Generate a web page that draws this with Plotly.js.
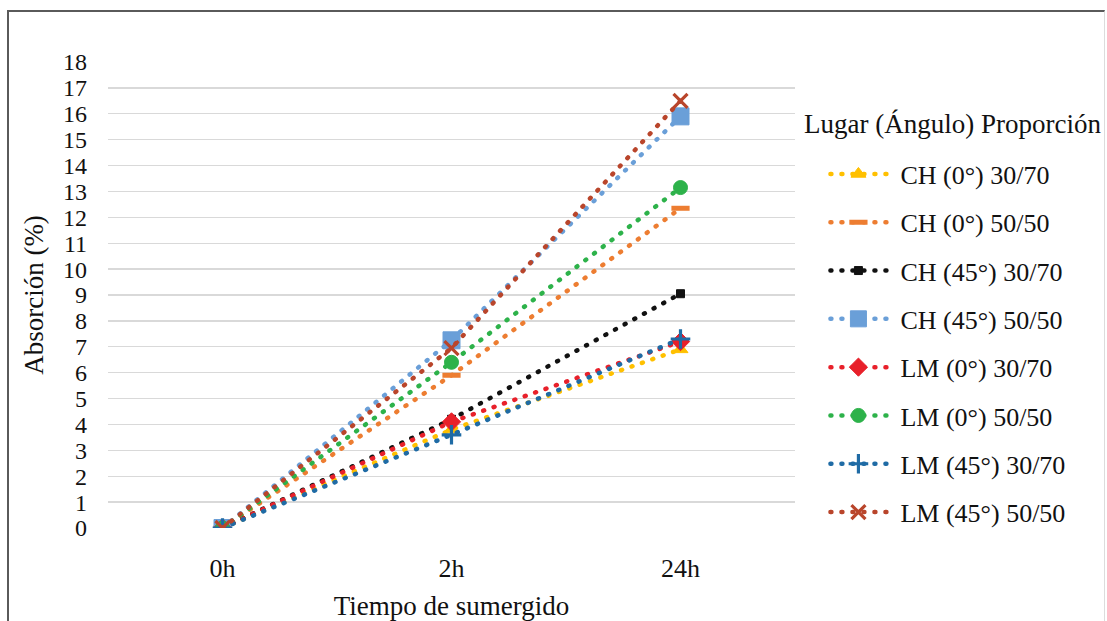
<!DOCTYPE html>
<html>
<head>
<meta charset="utf-8">
<script src="https://cdn.plot.ly/plotly-3.0.1.min.js"></script>
<style>
  html, body { margin: 0; padding: 0; background: #ffffff; }
  #wrap { position: relative; width: 1107px; height: 621px; overflow: hidden; }
  #frame {
    position: absolute; left: 7px; top: 10px; width: 1095px; height: 640px;
    border-top: 2px solid #5a5a5a; border-left: 2px solid #5a5a5a; border-right: 1px solid #dcdcdc;
    pointer-events: none; z-index: 2;
  }
  #chart { position: absolute; left: 0; top: 0; width: 1107px; height: 621px; }
</style>
</head>
<body>
<div id="wrap">
  <div id="chart"></div>
  <div id="frame"></div>
</div>
<script>
// Immersion time categories
const tiempos = ['0h', '2h', '24h'];

// Absorption (%) for each site / angle / proportion
const ch0_3070  = [0, 3.8, 6.9];
const ch0_5050  = [0, 5.9, 12.35];
const ch45_3070 = [0, 4.2, 9.05];
const ch45_5050 = [0, 7.25, 15.9];
const lm0_3070  = [0, 4.1, 7.2];
const lm0_5050  = [0, 6.4, 13.15];
const lm45_3070 = [0, 3.6, 7.3];
const lm45_5050 = [0, 6.95, 16.5];

const nombres = [
  'CH (0°) 30/70', 'CH (0°) 50/50', 'CH (45°) 30/70', 'CH (45°) 50/50',
  'LM (0°) 30/70', 'LM (0°) 50/50', 'LM (45°) 30/70', 'LM (45°) 50/50'
];
const tituloLeyenda = 'Lugar (Ángulo) Proporción';
const series = [ch0_3070, ch0_5050, ch45_3070, ch45_5050, lm0_3070, lm0_5050, lm45_3070, lm45_5050];

const colores = ['#FFC000', '#ED7D31', '#111111', '#6A9FD8', '#E8202A', '#2DB24A', '#1F6BA5', '#B9452B'];
const simbolos = ['triangle-up', 'line-ew', 'square', 'square', 'diamond', 'circle', 'cross-thin', 'x-thin'];
const tamanos = [13, 13, 8, 17, 14, 14, 14, 14];

const traces = series.map((vals, i) => {
  const open = (simbolos[i] === 'line-ew' || simbolos[i] === 'cross-thin' || simbolos[i] === 'x-thin');
  return {
    type: 'scatter',
    mode: 'lines+markers',
    name: nombres[i],
    legendgroup: 'g' + i,
    x: tiempos,
    y: vals,
    line: { color: colores[i], width: 4.5, dash: '1px,10px' },
    marker: {
      symbol: simbolos[i],
      size: tamanos[i],
      color: colores[i],
      line: { color: colores[i], width: simbolos[i] === 'line-ew' ? 5 : (open ? 3.2 : 1) }
    }
  };
});

const familia = 'Liberation Serif';
const f = (s) => ({ family: familia, size: s, color: '#111111' });

const layout = {
  width: 1107,
  height: 621,
  margin: { l: 108, r: 312, t: 62, b: 93 },
  paper_bgcolor: 'rgba(0,0,0,0)',
  plot_bgcolor: 'rgba(0,0,0,0)',
  font: f(26),
  showlegend: true,
  legend: {
    x: 1.005, xanchor: 'left',
    y: 0.81, yanchor: 'top',
    itemwidth: 74,
    indentation: 18,
    tracegroupgap: 11.5,
    font: f(26),
    bgcolor: 'rgba(0,0,0,0)'
  },
  annotations: [{
    text: tituloLeyenda,
    xref: 'paper', yref: 'paper',
    x: 1.01, xanchor: 'left',
    y: 0.867, yanchor: 'middle',
    showarrow: false,
    font: f(27)
  }],
  xaxis: {
    type: 'category',
    range: [-0.5, 2.5],
    showgrid: false,
    zeroline: false,
    showline: false,
    ticks: '',
    ticklabelstandoff: 22,
    tickfont: f(26),
    title: { text: 'Tiempo de sumergido', font: f(27), standoff: 25 }
  },
  yaxis: {
    range: [0, 18],
    dtick: 1,
    showgrid: true,
    gridcolor: '#d9d9d9',
    gridwidth: 1.3,
    zeroline: false,
    showline: false,
    ticks: '',
    ticklabelstandoff: 20,
    tickfont: f(24),
    title: { text: 'Absorción (%)', font: f(27), standoff: 11 }
  }
};

Plotly.newPlot('chart', traces, layout, { displayModeBar: false, staticPlot: true }).then(() => {
  // round the dots of the dotted lines
  document.querySelectorAll('#chart .scatterlayer .js-line, #chart .legend .legendlines path').forEach(p => {
    p.style.strokeLinecap = 'round';
  });
  // lengthen the legend line samples on both sides of their markers
  document.querySelectorAll('#chart .legend .legendlines path').forEach(p => {
    p.setAttribute('d', 'M14,0h62');
  });
});
</script>
</body>
</html>
